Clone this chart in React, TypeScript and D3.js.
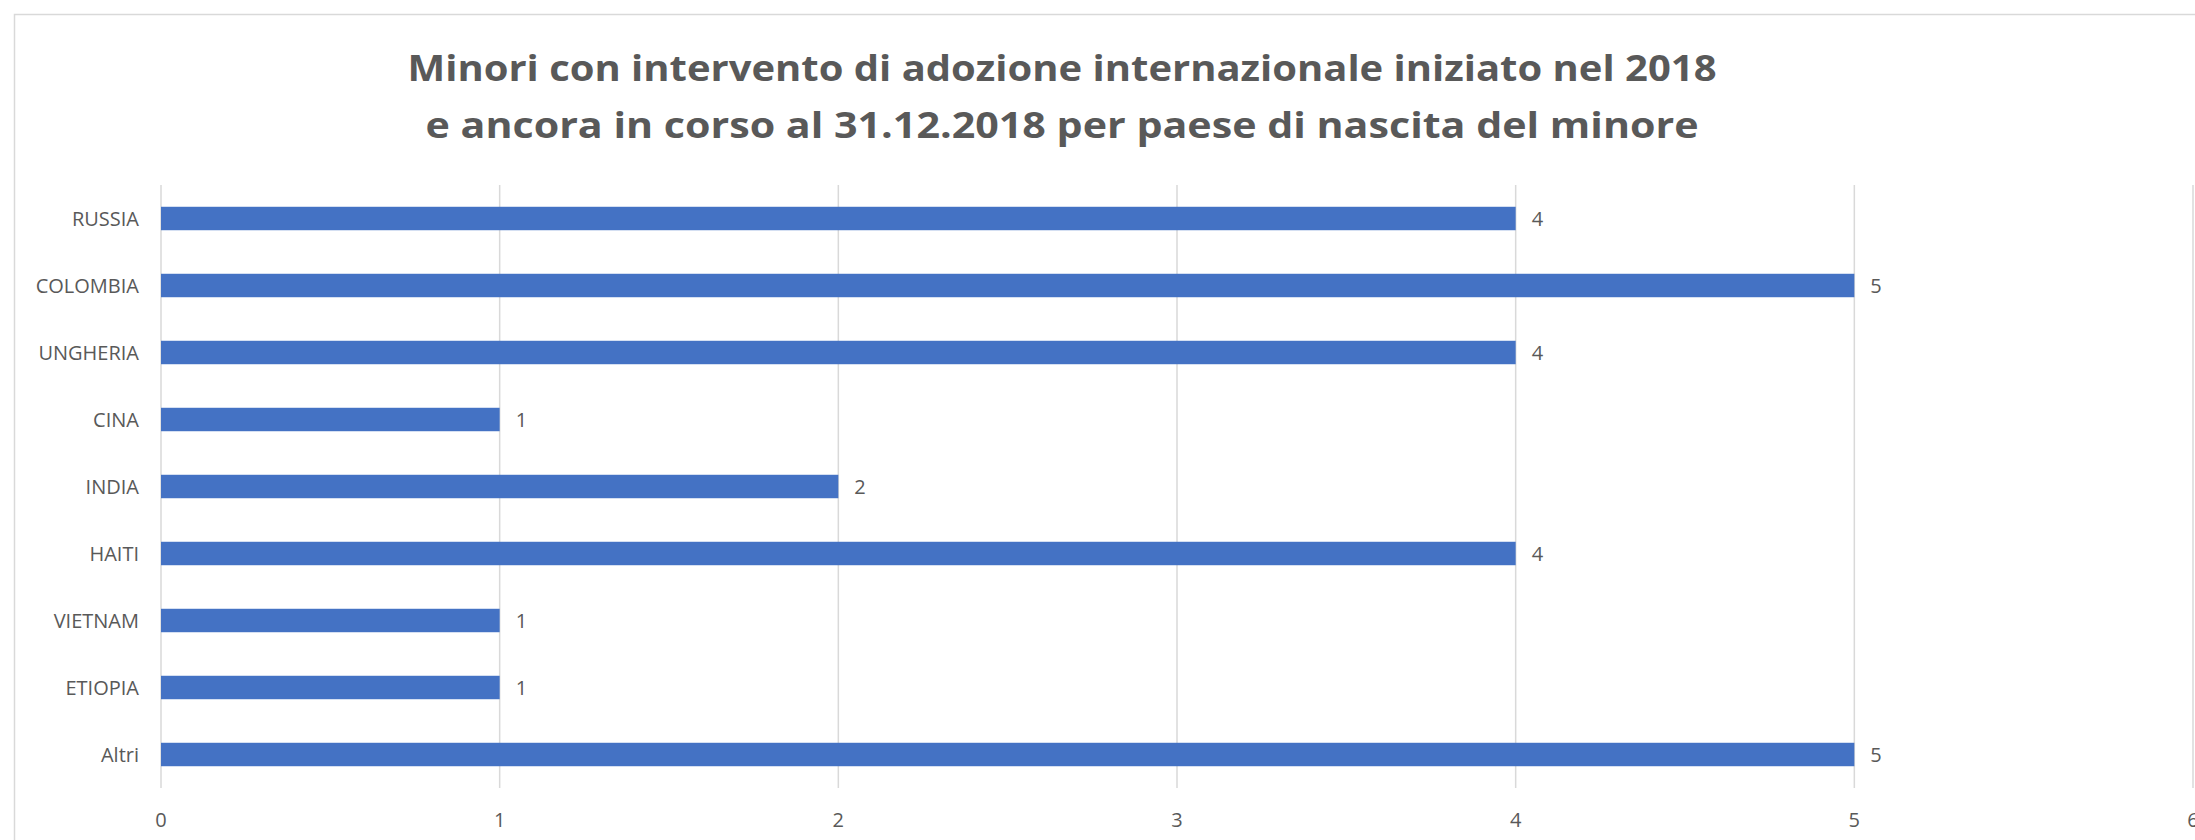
import React, { useEffect, useRef } from "react";
import * as d3 from "d3";

const categories = ["RUSSIA", "COLOMBIA", "UNGHERIA", "CINA", "INDIA", "HAITI", "VIETNAM", "ETIOPIA", "Altri"];
const values = [4, 5, 4, 1, 2, 4, 1, 1, 5];
const xTicks = [0, 1, 2, 3, 4, 5, 6];
const titleLines = [
  "Minori con intervento di adozione internazionale iniziato nel 2018",
  "e ancora in corso al 31.12.2018 per paese di nascita del minore",
];

const W = 2195;
const H = 840;
const textColor = "#595959";
const font = "'Open Sans', sans-serif";

export default function App() {
  const ref = useRef<SVGSVGElement | null>(null);

  useEffect(() => {
    const svg = d3.select(ref.current);
    svg.selectAll("*").remove();

    const left = 161, right = 2193, top = 185, bottom = 788;

    const x = d3.scaleLinear().domain([0, 6]).range([left, right]);
    const y = d3.scaleBand().domain(categories).range([top, bottom]).paddingInner(0.65).paddingOuter(0.325);

    // chart frame
    svg.append("rect")
      .attr("x", 14.5).attr("y", 14.5)
      .attr("width", W + 40).attr("height", H + 40)
      .attr("fill", "white").attr("stroke", "#d9d9d9").attr("stroke-width", 1.5);

    // title
    svg.append("g").selectAll("text").data(titleLines).join("text")
      .attr("x", 1062)
      .attr("y", (d, i) => 81 + i * 57)
      .attr("text-anchor", "middle")
      .attr("font-family", font)
      .attr("font-weight", "bold")
      .attr("font-size", 36)
      .attr("fill", textColor)
      .attr("textLength", (d, i) => (i === 0 ? 1309 : 1273))
      .attr("lengthAdjust", "spacingAndGlyphs")
      .text(d => d);

    // gridlines
    svg.append("g").selectAll("line").data(xTicks).join("line")
      .attr("x1", d => x(d)).attr("x2", d => x(d))
      .attr("y1", top).attr("y2", bottom)
      .attr("stroke", "#d9d9d9").attr("stroke-width", 1.5);

    // bars
    svg.append("g").selectAll("rect").data(values).join("rect")
      .attr("x", x(0))
      .attr("y", (d, i) => y(categories[i])!)
      .attr("width", d => x(d) - x(0))
      .attr("height", y.bandwidth())
      .attr("fill", "#4472C4");

    // value labels
    svg.append("g").selectAll("text").data(values).join("text")
      .attr("x", d => x(d) + 16)
      .attr("y", (d, i) => y(categories[i])! + y.bandwidth() / 2)
      .attr("dy", "0.35em")
      .attr("font-family", font)
      .attr("font-size", 20)
      .attr("fill", textColor)
      .text(d => d);

    // category labels
    svg.append("g").selectAll("text").data(categories).join("text")
      .attr("x", left - 22)
      .attr("y", d => y(d)! + y.bandwidth() / 2)
      .attr("dy", "0.35em")
      .attr("text-anchor", "end")
      .attr("font-family", font)
      .attr("font-size", 20)
      .attr("fill", textColor)
      .text(d => d);

    // x tick labels
    svg.append("g").selectAll("text").data(xTicks).join("text")
      .attr("x", d => x(d))
      .attr("y", 820)
      .attr("dy", "0.35em")
      .attr("text-anchor", "middle")
      .attr("font-family", font)
      .attr("font-size", 20)
      .attr("fill", textColor)
      .text(d => d);
  }, []);

  return (
    <svg
      ref={ref}
      width={W}
      height={H}
      style={{ position: "absolute", left: 0, top: 0, display: "block", background: "white" }}
    />
  );
}
